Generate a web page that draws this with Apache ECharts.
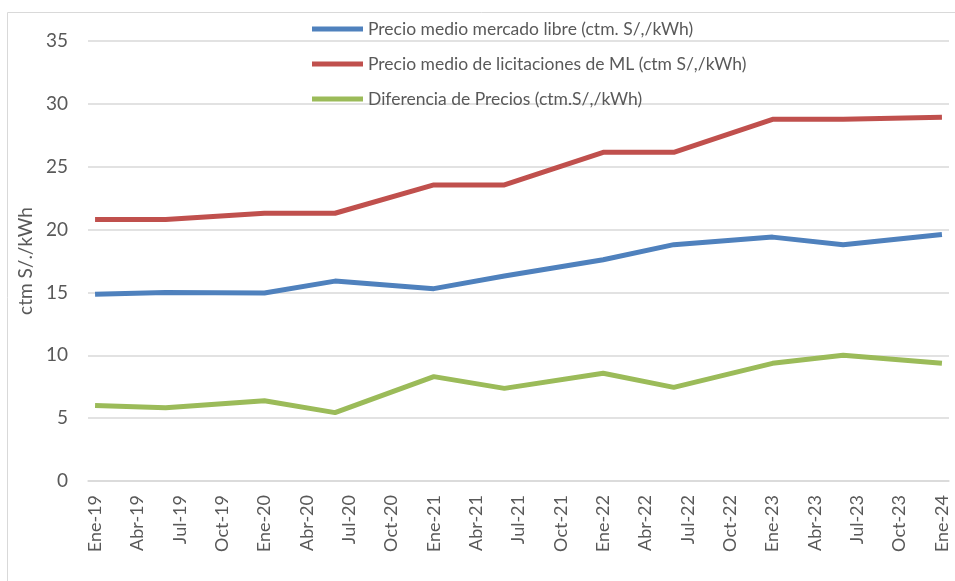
<!DOCTYPE html>
<html>
<head>
<meta charset="utf-8">
<script src="https://cdn.jsdelivr.net/npm/echarts@6/dist/echarts.min.js"></script>
<style>
  html, body { margin: 0; padding: 0; background: #fff; }
  #chart { width: 955px; height: 581px; }
</style>
</head>
<body>
<div id="chart"></div>
<script>
// meses y años del eje (eje mensual, etiqueta cada trimestre)
const monthNames = ['Ene', 'Feb', 'Mar', 'Abr', 'May', 'Jun', 'Jul', 'Ago', 'Sep', 'Oct', 'Nov', 'Dic']
const years = ['19', '20', '21', '22', '23', '24']

// fechas de los puntos
const pointDates = ['Ene-19', 'Jun-19', 'Ene-20', 'Jun-20', 'Ene-21', 'Jun-21',
  'Ene-22', 'Jun-22', 'Ene-23', 'Jun-23', 'Ene-24']

const mercadoLibre = [14.85, 15.0, 14.95, 15.9, 15.3, 16.3, 17.6, 18.8, 19.4, 18.8, 19.6]
const licitaciones = [20.8, 20.8, 21.3, 21.3, 23.55, 23.55, 26.15, 26.15, 28.77, 28.77, 28.93]
const diferencia = [6.0, 5.83, 6.39, 5.44, 8.3, 7.37, 8.57, 7.45, 9.36, 10.0, 9.36]

const seriesNames = [
  'Precio medio mercado libre (ctm. S/,/kWh)',
  'Precio medio de licitaciones de ML (ctm S/,/kWh)',
  'Diferencia de Precios (ctm.S/,/kWh)'
]
const colors = ['#4F81BD', '#C0504D', '#9BBB59']

const categories = []
years.forEach(y => {
  monthNames.forEach(m => {
    if (y === '24' && m !== 'Ene') return
    categories.push(m + '-' + y)
  })
})

const toPairs = vals => pointDates.map((d, i) => [d, vals[i]])

const font = 'Lato, "Liberation Sans", sans-serif'
const chart = echarts.init(document.getElementById('chart'))

chart.setOption({
  animation: false,
  color: colors,
  graphic: [{
    type: 'rect',
    shape: { x: 7.5, y: 12.5, width: 960, height: 600 },
    style: { fill: 'none', stroke: '#d9d9d9', lineWidth: 1 },
    silent: true
  }],
  legend: {
    orient: 'vertical',
    left: 312,
    top: 20,
    padding: 0,
    itemWidth: 51,
    itemHeight: 5,
    itemGap: 17,
    icon: 'rect',
    textStyle: { color: '#595959', fontSize: 17.5, fontFamily: font },
    data: seriesNames
  },
  grid: { left: 88, right: 6, top: 41, bottom: 100 },
  xAxis: {
    type: 'category',
    data: categories,
    boundaryGap: true,
    axisLine: { lineStyle: { color: '#d9d9d9', width: 1.5 } },
    axisTick: { show: false },
    axisLabel: {
      interval: 2,
      rotate: 90,
      color: '#595959',
      fontSize: 18,
      fontFamily: font,
      margin: 14
    }
  },
  yAxis: {
    type: 'value',
    min: 0,
    max: 35,
    interval: 5,
    name: 'ctm S/./kWh',
    nameLocation: 'middle',
    nameGap: 50,
    nameTextStyle: { color: '#595959', fontSize: 19, fontFamily: font },
    axisLine: { show: false },
    axisTick: { show: false },
    axisLabel: { color: '#595959', fontSize: 19, fontFamily: font, margin: 20 },
    splitLine: { lineStyle: { color: '#d9d9d9', width: 1.5 } }
  },
  series: [mercadoLibre, licitaciones, diferencia].map((vals, i) => ({
    name: seriesNames[i],
    type: 'line',
    data: toPairs(vals),
    showSymbol: false,
    symbol: 'none',
    lineStyle: { width: 5, color: colors[i] },
    z: 3 - i
  }))
})
</script>
</body>
</html>
